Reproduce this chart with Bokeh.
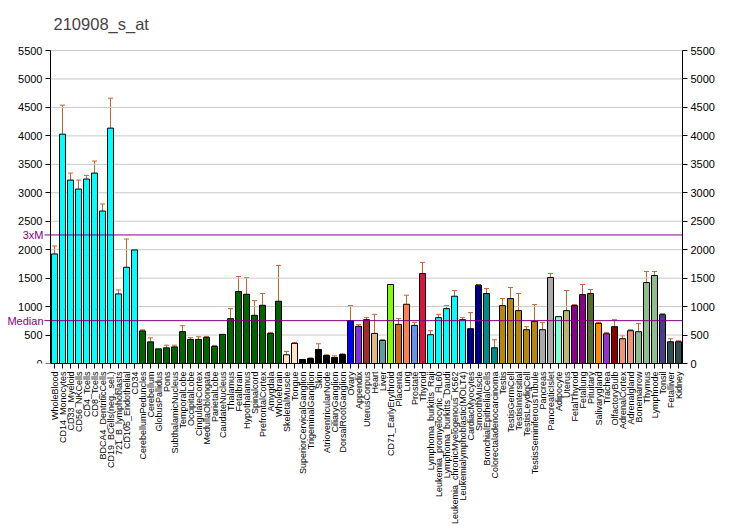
import math
from bokeh.plotting import figure
from bokeh.models import (ColumnDataSource, Range1d, LinearAxis, Label,
                          Whisker, TeeHead, FixedTicker)
from bokeh.embed import file_html
from bokeh.resources import INLINE

title_text = "210908_s_at"

categories = [
    "WholeBlood", "CD14_Monocytes", "CD33_Myeloid", "CD56_NKCells", "CD4_Tcells",
    "CD8_Tcells", "BDCA4_DentriticCells", "CD19_BCells(neg._sel.)", "721_B_lymphoblasts",
    "CD105_Endothelial", "CD34", "CerebellumPeduncles", "Cerebellum", "GlobusPallidus",
    "Pons", "SubthalamicNucleus", "TemporalLobe", "OccipitalLobe", "CingulateCortex",
    "MedullaOblongata", "ParietalLobe", "CaudateNucleus", "Thalamus", "Fetalbrain",
    "Hypothalamus", "Spinalcord", "PrefrontalCortex", "Amygdala", "Wholebrain",
    "SkeletalMuscle", "Tongue", "SuperiorCervicalGanglion", "TrigeminalGanglion", "Skin",
    "AtrioventricularNode", "CiliaryGanglion", "DorsalRootGanglion", "Ovary", "Appendix",
    "UterusCorpus", "Heart", "Liver", "CD71_EarlyErythroid", "Placenta", "Lung",
    "Prostate", "Thyroid", "Lymphoma_burkitts_Raji", "Leukemia_promyelocytic_HL60",
    "Lymphoma_burkitts_Daudi", "Leukemia_chronicMyelogenous_K562",
    "Leukemialymphoblastic(MOLT4)", "CardiacMyocytes", "SmoothMuscle",
    "BronchialEpithelialCells", "Colorectaladenocarcinoma", "Testis", "TestisGermCell",
    "TestisIntersitial", "TestisLeydigCell", "TestisSeminiferousTubule", "Pancreas",
    "PancreaticIslet", "Adipocyte", "Uterus", "FetalThyroid", "Fetallung", "Pituitary",
    "Salivarygland", "Trachea", "OlfactoryBulb", "AdrenalCortex", "Adrenalgland",
    "Bonemarrow", "Thymus", "Lymphnode", "Tonsil", "Fetalliver", "Kidney",
]

values = [
    1925, 4030, 3223, 3065, 3241, 3346, 2679, 4136, 1223, 1691,
    1995, 573, 380, 257, 275, 292, 560, 423, 423, 459,
    300, 512, 788, 1264, 1217, 847, 1023, 529, 1094, 153,
    353, 71, 88, 247, 141, 106, 159, 753, 653, 770,
    529, 406, 1388, 688, 1041, 670, 1582, 506, 806, 964,
    1182, 770, 612, 1376, 1229, 276, 1017, 1141, 929, 594,
    741, 594, 1511, 823, 929, 1017, 1211, 1229, 706, 523,
    647, 435, 576, 559, 1423, 1546, 858, 382, 382,
]

err_top = [
    2065, 4540, 3346, 3223, 3305, 3557, 2802, 4662, 1293, 2188,
    None, 591, 450, None, 322, 322, 664, 453, 470, 476,
    318, None, 964, 1529, 1511, 1105, 1229, 547, 1723, 212,
    370, None, 100, 347, 153, 135, 170, 1017, 682, 806,
    864, 417, None, 788, 1200, 723, 1776, 576, 864, 1017,
    1282, 806, 894, 1388, 1317, 417, 1141, 1335, 1229, 647,
    1035, 717, 1582, None, 1282, 1035, 1388, 1300, 723, 547,
    770, 488, 594, 700, 1617, 1617, 876, 435, 400,
]

colors = (
    ["#00ffff"] * 11 + ["#006400"] * 18 + ["#ffe4c4"] * 2 + ["#000000"] * 6 +
    ["#0000ff", "#8a2be2", "#a52a2a", "#deb887", "#5f9ea0", "#7fff00", "#d2691e",
     "#ff7f50", "#6495ed", "#dc143c"] +
    ["#00ffff"] * 5 + ["#00008b"] * 2 + ["#008b8b"] * 2 + ["#b8860b"] * 5 +
    ["#a9a9a9"] * 2 + ["#7fffd4", "#bdb76b", "#8b008b", "#8b008b", "#556b2f",
                       "#ff8c00", "#9932cc", "#8b0000", "#e9967a", "#e9967a",
                       "#8fbc8f", "#8fbc8f", "#8fbc8f", "#483d8b", "#2f4f4f", "#2f4f4f"]
)

median_value = 753
three_x_median = 2259
ref_labels = [("Median", median_value), ("3xM", three_x_median)]
y_max = 5500
y_ticks = list(range(0, 5501, 500))

# layout (pixels)
border_left, plot_top, plot_h = 50, 50, 313
head_room = 9          # extra frame pixels above the top tick so its label is not cut
pitch = 8.0
fig_w, fig_h = 726, 530

n = len(categories)
xpos = list(range(n))
x_lo, x_hi = -0.5, n - 0.5
x_start = x_lo - border_left / pitch
frame_w = border_left + n * pitch
y_end = y_max * (plot_h + head_room) / plot_h

src = ColumnDataSource(dict(x=xpos, val=values, color=colors))
ex = [i for i, e in zip(xpos, err_top) if e is not None]
ev = [v for v, e in zip(values, err_top) if e is not None]
et = [e for e in err_top if e is not None]
esrc = ColumnDataSource(dict(x=ex, low=ev, up=et))

p = figure(x_range=Range1d(x_start, x_hi), y_range=Range1d(0, y_end),
           width=fig_w, height=fig_h, y_axis_location=None,
           output_backend="svg", toolbar_location=None,
           min_border_left=0,
           min_border_right=int(fig_w - frame_w),
           min_border_top=plot_top - head_room,
           min_border_bottom=fig_h - plot_top - plot_h)

p.title.text = title_text
p.title.text_font = "Liberation Sans"
p.title.text_font_size = "16.5px"
p.title.text_font_style = "normal"
p.title.align = "left"
p.title.offset = border_left + 3
p.title.standoff = 27 - head_room

p.outline_line_color = None
p.xgrid.visible = False
p.ygrid.visible = False

# horizontal grid lines between the axes
p.segment(x0=[x_lo] * len(y_ticks), x1=[x_hi] * len(y_ticks), y0=y_ticks, y1=y_ticks,
          line_color="#c8c8c8", line_width=1)

p.vbar(x="x", top="val", width=0.75, source=src, fill_color="color",
       line_color="black", line_width=1)

w = Whisker(base="x", lower="low", upper="up", source=esrc,
            line_color="#c8642d", line_width=1,
            upper_head=TeeHead(size=5, line_color="#c8642d", line_width=1),
            lower_head=None)
p.add_layout(w)

ref_x0 = x_lo - 6 / pitch
for txt, v in ref_labels:
    p.segment(x0=[ref_x0], x1=[x_hi], y0=[v], y1=[v], line_color="#800080", line_width=1)
    p.add_layout(Label(x=x_lo, y=v, x_offset=-7, text=txt, text_align="right",
                       text_baseline="middle", text_color="#800080",
                       text_font="Liberation Sans", text_font_size="11px"))

left = LinearAxis(fixed_location=x_lo, ticker=FixedTicker(ticks=y_ticks))
p.add_layout(left, "left")
right = LinearAxis(ticker=FixedTicker(ticks=y_ticks))
p.add_layout(right, "right")

for ax in (left, right):
    ax.bounds = (0, y_max)
    ax.major_tick_out = 5
    ax.major_tick_in = 0
    ax.minor_tick_out = 0
    ax.minor_tick_in = 0
    ax.major_label_standoff = 3
    ax.major_label_text_font = "Liberation Sans"
    ax.major_label_text_font_size = "11px"
    ax.major_label_text_color = "black"
    ax.axis_line_color = "black"
    ax.major_tick_line_color = "black"

xa = p.xaxis[0]
xa.ticker = FixedTicker(ticks=xpos)
xa.major_label_overrides = {i: c for i, c in zip(xpos, categories)}
xa.bounds = (x_lo, x_hi)
xa.major_label_orientation = math.pi / 2
xa.major_label_text_font = "Liberation Sans"
xa.major_label_text_font_size = "9px"
xa.major_label_text_color = "black"
xa.major_label_standoff = 3
xa.major_tick_out = 5
xa.major_tick_in = 0
xa.minor_tick_out = 0
xa.minor_tick_in = 0
xa.axis_line_color = "black"
xa.major_tick_line_color = "black"

open("out.html", "w").write(file_html(p, INLINE))
